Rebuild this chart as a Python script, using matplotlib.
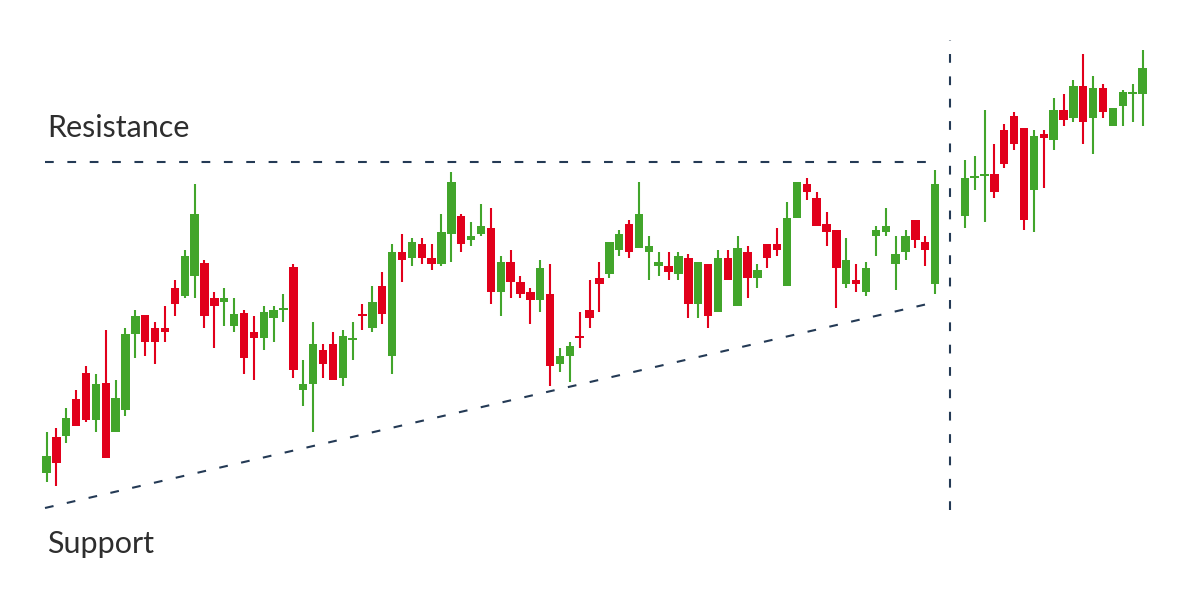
import matplotlib
matplotlib.use("Agg")
import matplotlib.pyplot as plt
import numpy as np

# OHLC values (price units)
opens = [117,153,154,191,217,170,207,158,180,256,275,262,262,302,294,314,327,292,288,264,
         277,258,252,272,280,323,200,206,240,246,212,250,276,262,304,234,338,332,346,332,
         326,356,374,350,356,362,298,328,308,298,290,296,226,234,254,280,312,316,340,366,
         342,338,324,324,316,332,286,326,278,332,284,338,312,346,346,304,372,406,392,366,
         360,306,310,298,354,358,326,338,370,348,306,
         374,412,414,416,460,474,462,400,456,450,480,472,504,472,502,464,484,496,496]
highs = [158,162,182,200,224,216,260,210,262,280,275,268,284,310,340,406,330,298,302,292,
         280,274,284,284,296,326,230,268,246,258,260,268,286,304,318,346,356,352,352,346,
         376,418,376,368,386,382,334,340,314,302,330,326,242,248,278,310,328,348,360,370,
         408,354,338,338,338,336,328,326,340,340,354,344,326,346,362,388,408,412,398,378,
         360,352,326,328,364,382,354,360,370,354,420,
         430,434,480,446,466,478,462,460,460,492,496,510,536,514,506,482,500,506,540]
lows =  [108,104,147,164,168,158,132,158,174,232,234,226,248,274,292,292,262,242,264,258,
         216,210,240,248,268,212,184,158,212,210,204,230,260,258,266,216,308,324,326,320,
         324,328,338,344,354,286,274,292,292,266,278,204,218,208,242,262,278,312,334,332,
         342,310,314,310,310,272,272,262,278,310,284,292,302,322,334,304,372,390,364,344,
         282,302,298,294,334,354,300,330,342,324,296,
         362,400,368,392,422,440,360,358,402,440,464,468,446,436,472,464,464,468,464]
closes = [134,127,172,164,170,206,132,192,256,274,248,248,258,286,334,376,274,284,292,276,
          232,252,278,280,282,220,206,246,226,210,254,252,274,288,276,338,330,348,332,326,
          358,408,346,354,364,298,328,308,296,290,322,224,234,244,252,272,306,348,356,338,
          376,344,328,318,334,286,328,274,332,310,342,312,320,332,340,372,408,398,364,358,
          322,330,306,322,360,364,336,354,350,340,406,
          412,414,416,398,426,446,370,454,452,480,470,504,468,502,478,482,498,498,522]

n_before_break = 91   # candles before the breakout gap
gap_slots = 2         # empty slots at the breakout

resistance_level = 428
support_start, support_end = 82, 288
labels = ["Resistance", "Support"]

GREEN = "#42a52b"
RED = "#e1001b"
NAVY = "#243a55"

n = len(opens)
slots = np.array([i if i < n_before_break else i + gap_slots for i in range(n)], dtype=float)
o = np.array(opens, float); h = np.array(highs, float)
l = np.array(lows, float); c = np.array(closes, float)
up = c >= o
cols = np.where(up, GREEN, RED)

plt.rcParams['lines.scale_dashes'] = False
fig = plt.figure(figsize=(12, 5.9), dpi=100)
ax = fig.add_axes([0, 0, 1, 1])
spacing = 9.874
x0 = 46.5
ax.set_xlim(-x0 / spacing, (1200 - x0) / spacing)
ax.set_ylim(0, 590)
ax.axis("off")

ax.vlines(slots, l, h, colors=cols, linewidth=1.5, zorder=2)
body_bottom = np.minimum(o, c)
body_h = np.maximum(np.abs(c - o), 1.5)
ax.bar(slots, body_h, bottom=body_bottom, width=0.85, color=cols, linewidth=0, zorder=3)

dash = (0, (6.3, 9.8))
xl = (45 - x0) / spacing
xr = slots[n_before_break - 1] + 0.1
ax.plot([xl, xr], [resistance_level, resistance_level], color=NAVY, lw=1.5, linestyle=dash)
ax.plot([xl, xr], [support_start, support_end], color=NAVY, lw=1.5, linestyle=dash)
xv = slots[n_before_break - 1] + (gap_slots + 1) / 2
ax.plot([xv, xv], [80, 550], color=NAVY, lw=1.5, linestyle=dash)

fig.text(47 / 1200, 1 - 137 / 590, labels[0], fontsize=22, family="Lato",
         color="#2e2e2e", ha="left", va="baseline")
fig.text(47 / 1200, 1 - 553 / 590, labels[1], fontsize=22, family="Lato",
         color="#2e2e2e", ha="left", va="baseline")

fig.savefig("out.png", dpi=100, facecolor="white")
